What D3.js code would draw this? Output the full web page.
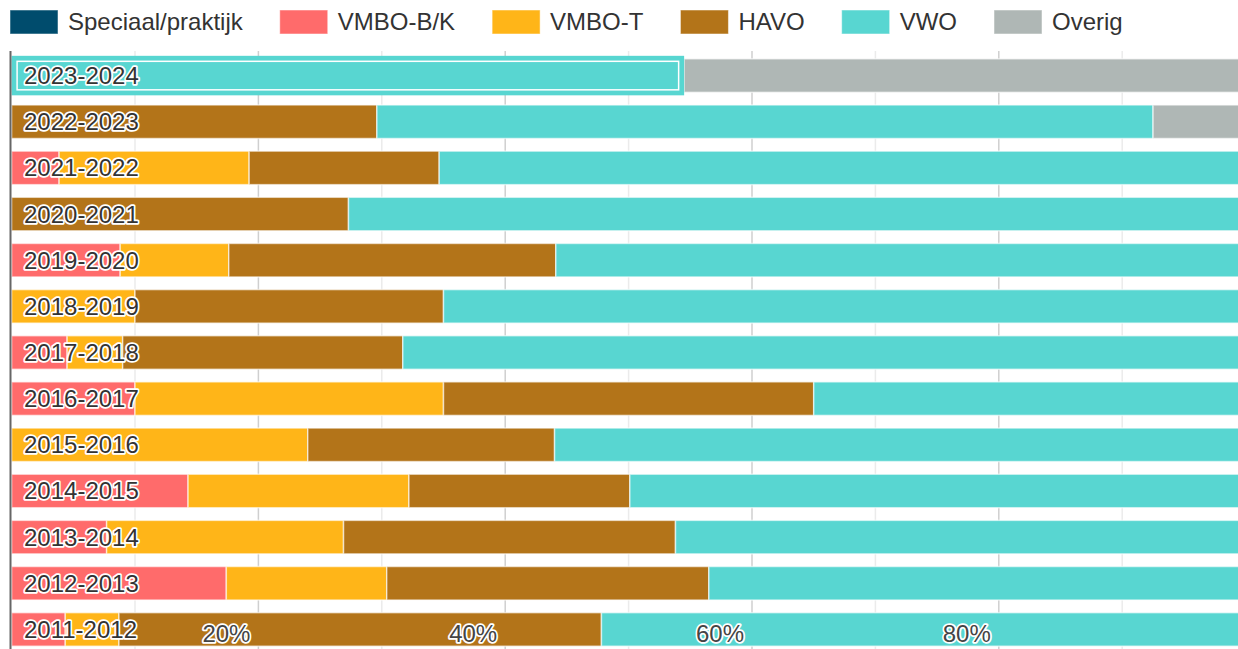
<!DOCTYPE html>
<html>
<head>
<meta charset="utf-8">
<script src="https://cdn.jsdelivr.net/npm/d3@7"></script>
<style>
  body { margin: 0; background: #fff; }
  svg { display: block; font-family: "Liberation Sans", Arial, sans-serif; }
</style>
</head>
<body>
<svg id="chart" width="1238" height="649"></svg>
<script>

// school years, top to bottom
var years = ["2023-2024", "2022-2023", "2021-2022", "2020-2021", "2019-2020", "2018-2019",
  "2017-2018", "2016-2017", "2015-2016", "2014-2015", "2013-2014", "2012-2013", "2011-2012"];

var categories = ["Speciaal/praktijk", "VMBO-B/K", "VMBO-T", "HAVO", "VWO", "Overig"];
var colors = ["#004c6d", "#ff6b6b", "#ffb518", "#b37419", "#58d6d1", "#afb7b5"];

// percentages per year (same order as years)
var speciaal = [0, 0, 0, 0, 0, 0, 0, 0, 0, 0, 0, 0, 0];
var vmboBK   = [0, 0, 3.85, 0, 8.8, 0, 4.5, 10, 0, 14.3, 7.7, 17.4, 4.35];
var vmboT    = [0, 0, 15.4, 0, 8.8, 10, 4.5, 25, 24, 17.9, 19.2, 13.0, 4.35];
var havo     = [0, 29.6, 15.4, 27.3, 26.5, 25, 22.7, 30, 20, 17.9, 26.9, 26.1, 39.1];
var vwo      = [54.5, 62.9, 65.4, 72.7, 55.9, 65, 68.2, 35, 56, 50, 46.2, 43.5, 52.2];
var overig   = [45.5, 7.5, 0, 0, 0, 0, 0, 0, 0, 0, 0, 0, 0];

var gridTicks = [10, 20, 30, 40, 50, 60, 70, 80, 90];
var labelTicks = [20, 40, 60, 80];

var series = [speciaal, vmboBK, vmboT, havo, vwo, overig];
var rows = years.map(function(y, i) {
  var r = { year: y };
  categories.forEach(function(c, j) { r[c] = series[j][i]; });
  return r;
});

var svg = d3.select("#chart");
var plotTop = 51, plotBottom = 649;

var xScale = d3.scaleLinear().domain([0, 100]).range([11.6, 1245.6]);
var yScale = d3.scaleBand().domain(years).range([52.5, 652.5])
  .paddingInner(0.274).paddingOuter(0.137);
var color = d3.scaleOrdinal().domain(categories).range(colors);

// gridlines
svg.append("g").selectAll("line")
  .data(gridTicks)
  .join("line")
    .attr("x1", function(d) { return xScale(d); })
    .attr("x2", function(d) { return xScale(d); })
    .attr("y1", plotTop).attr("y2", plotBottom)
    .attr("stroke", function(d) { return d % 20 == 0 ? "#cfcfcf" : "#ebebeb"; })
    .attr("stroke-width", 1.5);

// stacked bars
var stacked = d3.stack().keys(categories)(rows);

svg.append("g").selectAll("g")
  .data(stacked)
  .join("g")
    .attr("fill", function(d) { return color(d.key); })
  .selectAll("rect")
  .data(function(d) { return d.filter(function(p) { return p[1] - p[0] > 0; }); })
  .join("rect")
    .attr("x", function(d) { return xScale(d[0]); })
    .attr("y", function(d) { return yScale(d.data.year); })
    .attr("width", function(d) { return xScale(d[1]) - xScale(d[0]); })
    .attr("height", yScale.bandwidth())
    .attr("stroke", "#fff")
    .attr("stroke-opacity", 0.6)
    .attr("stroke-width", 1.5);

// highlighted (hovered) VWO segment of the top bar
var hov = stacked[4][0];
var hx0 = xScale(hov[0]), hx1 = xScale(hov[1]), hy = yScale(hov.data.year), hh = yScale.bandwidth();
svg.append("rect")
  .attr("x", hx0 + 1.5).attr("y", hy - 1.5)
  .attr("width", hx1 - hx0 - 3).attr("height", hh + 3)
  .attr("fill", colors[4])
  .attr("stroke", colors[4]).attr("stroke-width", 3);
svg.append("rect")
  .attr("x", hx0 + 5.5).attr("y", hy + 2.5)
  .attr("width", hx1 - hx0 - 11).attr("height", hh - 5)
  .attr("fill", "none")
  .attr("stroke", "#fff").attr("stroke-width", 1.5);

// y axis line
svg.append("line")
  .attr("x1", 10.5).attr("x2", 10.5)
  .attr("y1", plotTop).attr("y2", plotBottom)
  .attr("stroke", "#666").attr("stroke-width", 2);

// year labels inside the bars
svg.append("g").selectAll("text")
  .data(years)
  .join("text")
    .attr("x", 24)
    .attr("y", function(d) { return yScale(d) + yScale.bandwidth() / 2 + 8.5; })
    .attr("font-size", "24px")
    .attr("fill", "#333")
    .attr("stroke", "#fff").attr("stroke-width", 3.5)
    .attr("stroke-linejoin", "round")
    .attr("paint-order", "stroke")
    .text(function(d) { return d; });

// x tick labels
svg.append("g").selectAll("text")
  .data(labelTicks)
  .join("text")
    .attr("x", function(d) { return xScale(d) - 32; })
    .attr("y", 642)
    .attr("text-anchor", "middle")
    .attr("font-size", "24px")
    .attr("fill", "#444")
    .attr("stroke", "#fff").attr("stroke-width", 3.5)
    .attr("stroke-linejoin", "round")
    .attr("paint-order", "stroke")
    .text(function(d) { return d + "%"; });

// legend
var legend = svg.append("g");
var lx = 10;
categories.forEach(function(c, i) {
  legend.append("rect")
    .attr("x", lx).attr("y", 10)
    .attr("width", 48).attr("height", 24)
    .attr("fill", colors[i])
    .attr("stroke", "#fff").attr("stroke-opacity", 0.5);
  var t = legend.append("text")
    .attr("x", lx + 58).attr("y", 30)
    .attr("font-size", "24px")
    .attr("fill", "#333")
    .text(c);
  lx = lx + 58 + t.node().getComputedTextLength() + 37;
});

</script>
</body>
</html>
